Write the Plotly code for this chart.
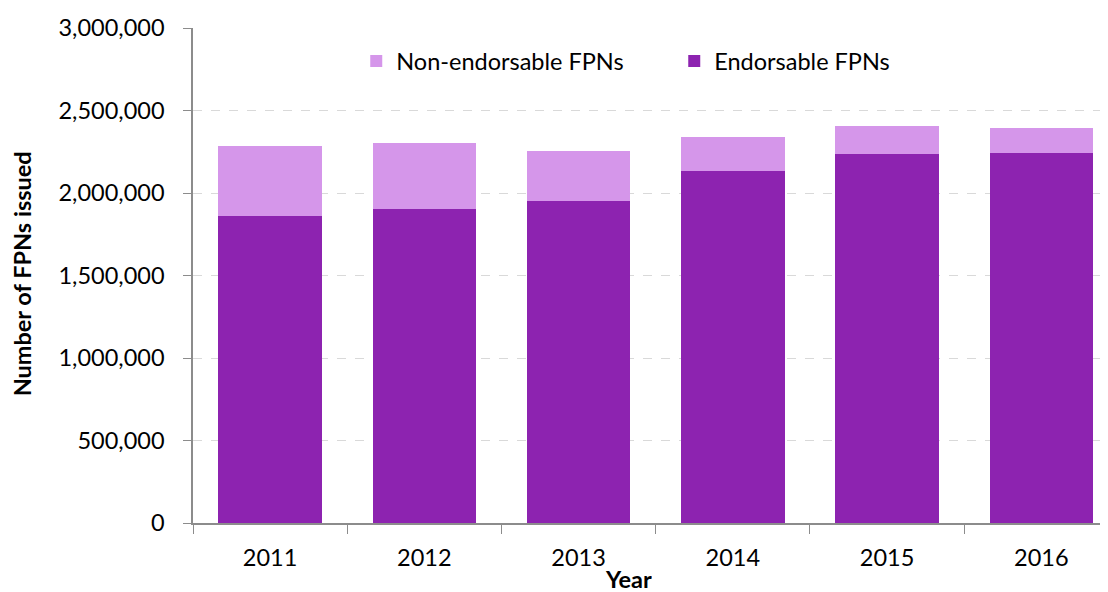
import plotly.graph_objects as go

years = ["2011", "2012", "2013", "2014", "2015", "2016"]
endorsable = [1858000, 1903000, 1953000, 2134000, 2237000, 2242000]
non_endorsable = [426000, 399000, 299000, 204000, 168000, 149000]
y_ticks = [0, 500000, 1000000, 1500000, 2000000, 2500000, 3000000]
y_tick_labels = ["0", "500,000", "1,000,000", "1,500,000", "2,000,000", "2,500,000", "3,000,000"]

FONT = "Lato"
FS = 23.5
# page has an 8px body margin; figure is sized to fit the window
W, H = 1100, 584
L, T, B = 184.7, 19.7, 68.7
PW, PH = W - L, H - T - B

fig = go.Figure()
fig.add_trace(go.Bar(x=years, y=endorsable, name="Endorsable FPNs",
                     marker=dict(color="#8D23B0", line=dict(width=0))))
fig.add_trace(go.Bar(x=years, y=non_endorsable, name="Non-endorsable FPNs",
                     marker=dict(color="#D596EA", line=dict(width=0))))

fig.update_layout(
    width=W, height=H,
    barmode="stack", bargap=0.33,
    plot_bgcolor="white", paper_bgcolor="white",
    margin=dict(l=L, r=0, t=T, b=B, pad=0),
    font=dict(family=FONT, size=FS, color="black"),
    legend=dict(orientation="h", x=(356 - 8 - L) / PW, y=1 - (39 - 27.7) / PH,
                xanchor="left", yanchor="top",
                traceorder="reversed", font=dict(size=FS), itemwidth=30,
                entrywidth=273, entrywidthmode="pixels",
                bgcolor="rgba(0,0,0,0)"),
    showlegend=True,
)
fig.update_xaxes(
    type="category", range=[-0.5, 5.432],
    showline=True, linecolor="#8c8c8c", linewidth=1.5,
    ticks="outside", tickson="boundaries", ticklen=9, tickcolor="#8c8c8c",
    ticklabelstandoff=13, showgrid=False,
)
fig.update_yaxes(
    range=[0, 3000000], tickvals=y_ticks, ticktext=y_tick_labels,
    showline=True, linecolor="#8c8c8c", linewidth=1.5,
    ticks="outside", ticklen=8, tickcolor="#8c8c8c",
    ticklabelstandoff=14,
    showgrid=True, gridcolor="#d9d9d9", griddash="dash", gridwidth=1,
    zeroline=False,
)
fig.add_annotation(text="<b>Number of FPNs issued</b>", textangle=-90,
                   xref="paper", yref="paper", x=(22 - 8 - L) / PW, y=1 - (274 - 27.7) / PH,
                   xanchor="center", yanchor="middle", showarrow=False,
                   font=dict(size=FS, family=FONT))
fig.add_annotation(text="<b>Year</b>", xref="paper", yref="paper",
                   x=(628 - 8 - L) / PW, y=-(579 - 523.3) / PH,
                   xanchor="center", yanchor="middle", showarrow=False,
                   height=22, borderpad=0,
                   font=dict(size=FS, family=FONT))

fig.write_html("out.html")
